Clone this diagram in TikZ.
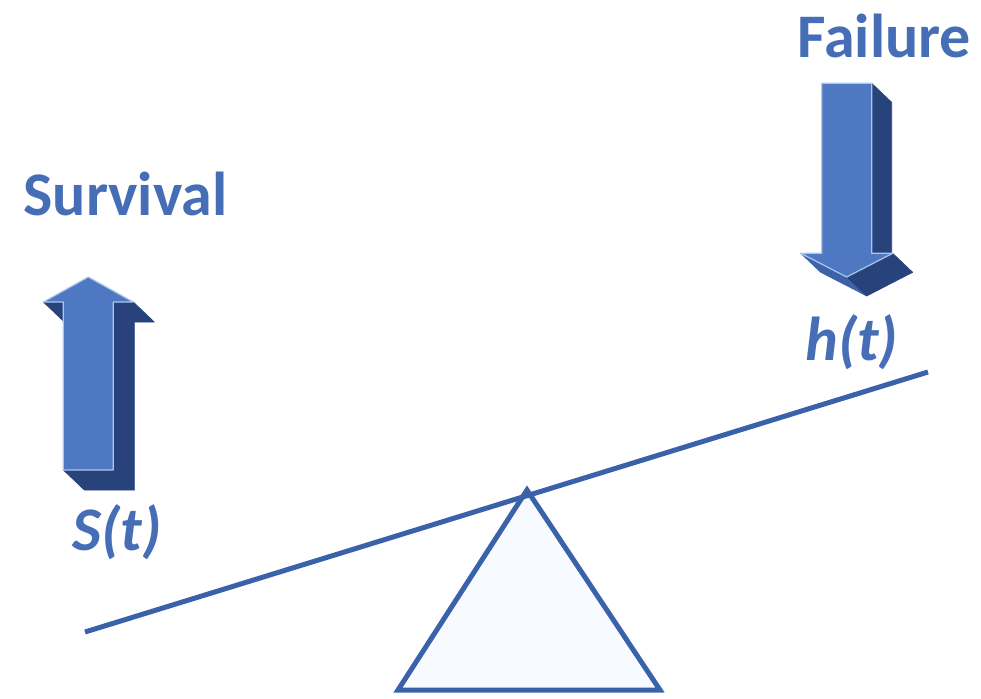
\documentclass[tikz,border=0pt]{standalone}
\usepackage{fontspec}
\setmainfont{Carlito}
\definecolor{facecol}{RGB}{78,120,194}
\definecolor{darkcol}{RGB}{40,66,124}
\definecolor{midcol}{RGB}{62,98,168}
\definecolor{rimcol}{RGB}{172,198,238}
\definecolor{txtcol}{RGB}{70,110,182}
\definecolor{beamcol}{RGB}{58,98,170}
\definecolor{basecol}{RGB}{247,250,254}
\begin{document}
\begin{tikzpicture}[x=0.5pt,y=-0.5pt,
  front/.style={fill=facecol,draw=rimcol,line width=0.6pt,line join=round},
  side/.style={fill=darkcol,draw=darkcol,line width=0.3pt,line join=round},
  sidemid/.style={fill=midcol,draw=midcol,line width=0.3pt,line join=round},
  lbl/.style={text=txtcol,inner sep=0pt,anchor=base west,font=\bfseries\fontsize{31}{31}\selectfont},
  lever/.style={draw=beamcol,line width=2.5pt}]
\useasboundingbox (0,0) rectangle (981,698);
% up arrow
\path[side] (113.3,302) -- (134.3,322) -- (134.3,490) -- (113.3,470) -- cycle;
\path[side] (63.3,470) -- (113.3,470) -- (134.3,490) -- (84.3,490) -- cycle;
\path[side] (113.3,302) -- (133.3,302) -- (154.3,322) -- (134.3,322) -- cycle;
\path[side] (43.3,302) -- (63.3,302) -- (84.3,322) -- (64.3,322) -- cycle;
\path[front] (63.3,470) -- (63.3,302) -- (43.3,302) -- (88.3,277)
  -- (133.3,302) -- (113.3,302) -- (113.3,470) -- cycle;
% down arrow
\path[side] (871.7,83.3) -- (891.7,102.3) -- (891.7,272.3) -- (871.7,253.3) -- cycle;
\path[sidemid] (800.7,253.3) -- (846.7,277) -- (866.7,296) -- (820.7,272.3) -- cycle;
\path[side] (892.7,253.3) -- (846.7,277) -- (866.7,296) -- (912.7,272.3) -- cycle;
\path[front] (821.7,83.3) -- (871.7,83.3) -- (871.7,253.3) -- (892.7,253.3)
  -- (846.7,277) -- (800.7,253.3) -- (821.7,253.3) -- cycle;
% labels
\node[lbl] (surv) at (23,215) {Survival};
\node[lbl] (fail) at (797,57) {Failure};
\node[lbl,font=\bfseries\itshape\fontsize{31}{31}\selectfont] (haz) at (805,360) {h(t)};
\node[lbl,font=\bfseries\itshape\fontsize{31}{31}\selectfont] (srv) at (72,550) {S(t)};
% seesaw
\coordinate (bl) at (398,690);
\coordinate (br) at (660,690);
\coordinate (top) at (527,490);
\coordinate (beamL) at (85,632);
\coordinate (beamR) at (928,372);
\draw[lever,fill=basecol,line join=miter] (bl) -- (top) -- (br) -- cycle;
\draw[lever] (beamL) -- (beamR);
\end{tikzpicture}
\end{document}
